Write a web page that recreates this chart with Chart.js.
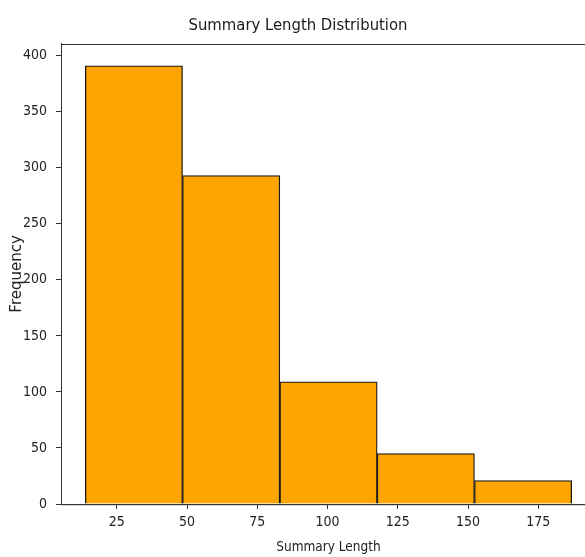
<!DOCTYPE html>
<html>
<head>
<meta charset="utf-8">
<script src="https://cdn.jsdelivr.net/npm/chart.js@4"></script>
<style>
  html, body { margin: 0; padding: 0; background: #fff; overflow: hidden; }
</style>
</head>
<body>
<canvas id="myChart" width="596" height="557"></canvas>
<script>
// bin edges and counts
var binEdges = [13.8, 48.4, 83.0, 117.7, 152.3, 186.9];
var binCounts = [391, 293, 109, 45, 21];
var xTicks = [25, 50, 75, 100, 125, 150, 175];
var yTicks = [0, 50, 100, 150, 200, 250, 300, 350, 400];

var fontName = "'DejaVu Sans Condensed', 'DejaVu Sans', sans-serif";

var puntos = [];
for (var i = 0; i < binCounts.length; i++) {
  puntos.push({ x: (binEdges[i] + binEdges[i + 1]) / 2, y: binCounts[i] });
}

var span = binEdges[binEdges.length - 1] - binEdges[0];
var xMin = binEdges[0] - span * 0.05;
var xMax = binEdges[binEdges.length - 1] + span * 0.05;
var yMax = Math.max.apply(null, binCounts) * 1.05;

// box round the plot area (top spine)
var marco = {
  id: "marco",
  afterDraw: function (chart) {
    var a = chart.chartArea;
    var c = chart.ctx;
    c.save();
    c.strokeStyle = "#333";
    c.lineWidth = 1;
    c.strokeRect(Math.round(a.left) + 0.5, Math.round(a.top) + 0.5, a.right - a.left, a.bottom - a.top);
    c.restore();
  },
};

var ctx = document.getElementById("myChart");
var myChart = new Chart(ctx, {
  type: "bar",
  data: {
    datasets: [
      {
        data: puntos,
        backgroundColor: "#FFA500",
        borderColor: "#1a1a1a",
        borderWidth: 1.3,
        barThickness: "flex",
        barPercentage: 1,
        categoryPercentage: 1,
      },
    ],
  },
  options: {
    responsive: false,
    animation: false,
    layout: { padding: 0 },
    plugins: {
      legend: { display: false },
      tooltip: { enabled: false },
      title: {
        display: true,
        text: "Summary Length Distribution",
        color: "#1a1a1a",
        font: { family: fontName, size: 16.5, weight: "normal" },
        padding: { top: 16, bottom: 8 },
      },
    },
    scales: {
      x: {
        type: "linear",
        offset: false,
        min: xMin,
        max: xMax,
        afterBuildTicks: function (s) {
          s.ticks = xTicks.map(function (v) { return { value: v }; });
        },
        afterFit: function (s) { s.height = 53; },
        grid: { offset: false, drawOnChartArea: false, drawTicks: true, tickLength: 5, color: "#333" },
        border: { display: true, color: "#333" },
        ticks: { color: "#222", padding: 5, maxRotation: 0, font: { family: fontName, size: 14 } },
        title: {
          display: true,
          text: "Summary Length",
          color: "#222",
          font: { family: fontName, size: 13.5 },
          padding: { top: 2, bottom: 1 },
        },
      },
      y: {
        min: 0,
        max: yMax,
        afterBuildTicks: function (s) {
          s.ticks = yTicks.map(function (v) { return { value: v }; });
        },
        afterFit: function (s) { s.width = 61; },
        grid: { drawOnChartArea: false, drawTicks: true, tickLength: 5, color: "#333" },
        border: { display: true, color: "#333" },
        ticks: { color: "#222", padding: 9, font: { family: fontName, size: 14 } },
        title: {
          display: true,
          text: "Frequency",
          color: "#222",
          font: { family: "'DejaVu Sans', sans-serif", size: 15 },
          padding: { top: 8, bottom: 0 },
        },
      },
    },
  },
  plugins: [marco],
});
</script>
</body>
</html>
